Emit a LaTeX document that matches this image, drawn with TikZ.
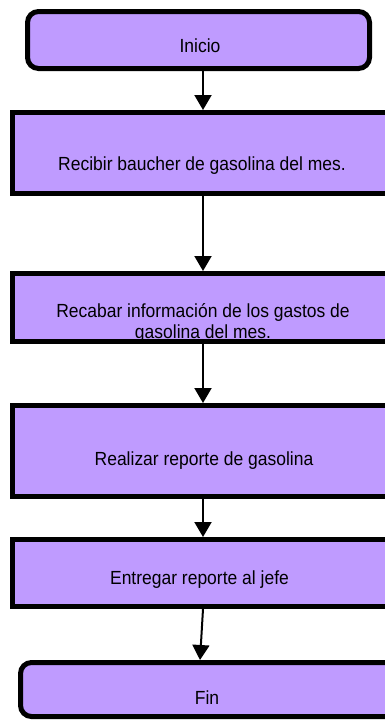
\documentclass[tikz,border=0pt]{standalone}
\usepackage{fontspec}
\setmainfont{Liberation Sans}[FakeStretch=0.92]
\usetikzlibrary{arrows.meta}
\definecolor{boxfill}{RGB}{191,155,255}
\begin{document}
\begin{tikzpicture}[x=1pt,y=-1pt,
  stepbox/.style={draw=black, line width=5pt, fill=boxfill, rectangle, inner sep=0pt},
  termbox/.style={stepbox, rounded corners=11pt},
  lbl/.style={inner sep=0pt, anchor=base, align=center, font=\fontsize{19}{21}\selectfont},
  conn/.style={line width=2pt, -{Triangle[width=17pt,length=15pt]}}]
\useasboundingbox (0,0) rectangle (385,720);
\clip (0,0) rectangle (385,720);
% boxes
\node[termbox, minimum width=342pt, minimum height=57pt] (inicio) at (198.5,40) {};
\node[stepbox, minimum width=381pt, minimum height=81pt] (r1) at (203,153) {};
\node[stepbox, minimum width=381pt, minimum height=68pt] (r2) at (203,307.5) {};
\node[stepbox, minimum width=381pt, minimum height=91pt] (r3) at (203,451) {};
\node[stepbox, minimum width=381pt, minimum height=67pt] (r4) at (203,573) {};
\node[termbox, minimum width=381pt, minimum height=54pt] (fin) at (211,689.5) {};
% texts
\node[lbl] (t0) at (200,52.7) {Inicio};
\node[lbl] (t1) at (202,170) {Recibir baucher de gasolina del mes.};
\node[lbl] (t2) at (203,338) {Recabar información de los gastos de\\gasolina del mes.};
\node[lbl] (t3) at (204,465) {Realizar reporte de gasolina};
\node[lbl] (t4) at (199.5,584) {Entregar reporte al jefe};
\node[lbl] (t5) at (207,704) {Fin};
% connectors
\draw[conn] (r1.north |- inicio.south) -- (r1.north);
\draw[conn] (r1.south) -- (r2.north);
\draw[conn] (r2.south) -- (r3.north);
\draw[conn] (r3.south) -- (r4.north);
\draw[conn] (r4.south) -- ([xshift=-11pt]fin.north);
\end{tikzpicture}
\end{document}
